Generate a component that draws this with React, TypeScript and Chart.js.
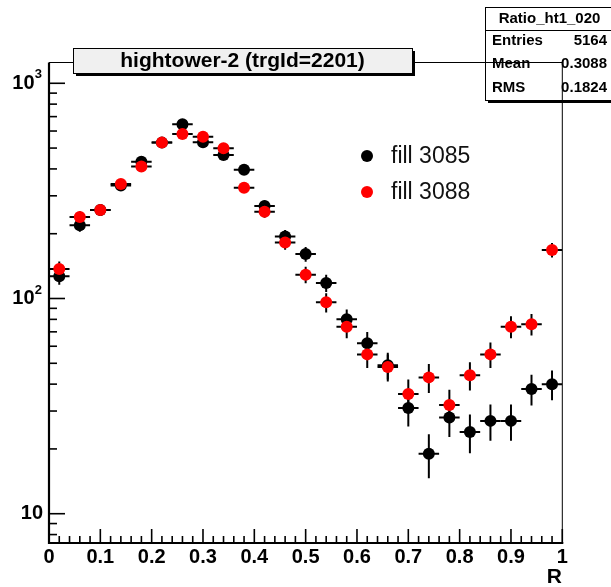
import { useEffect, useRef } from 'react';
import { Chart, registerables } from 'chart.js';

Chart.register(...registerables);

// ---- data ----
const binCenters = [0.02, 0.06, 0.10, 0.14, 0.18, 0.22, 0.26, 0.30, 0.34, 0.38, 0.42, 0.46, 0.50, 0.54, 0.58, 0.62, 0.66, 0.70, 0.74, 0.78, 0.82, 0.86, 0.90, 0.94, 0.98];
const binHalfWidth = 0.02;
const fill3085 = [127, 219, 258, 335, 432, 530, 645, 532, 464, 396, 269, 194, 161, 118, 80, 62, 49, 31, 19, 28, 24, 27, 27, 38, 40];
const fill3085Err = [11.3, 14.8, 16.1, 18.3, 20.8, 23, 25.4, 23.1, 21.5, 19.9, 16.4, 13.9, 12.7, 10.9, 8.9, 7.9, 7, 5.6, 4.4, 5.3, 4.9, 5.2, 5.2, 6.2, 6.3];
const fill3088 = [137, 239, 258, 340, 410, 530, 581, 565, 499, 327, 253, 182, 129, 96, 74, 55, 48, 36, 43, 32, 44, 55, 74, 76, 168];
const fill3088Err = [11.7, 15.5, 16.1, 18.4, 20.2, 23, 24.1, 23.8, 22.3, 18.1, 15.9, 13.5, 11.4, 9.8, 8.6, 7.4, 6.9, 6, 6.6, 5.7, 6.6, 7.4, 8.6, 8.7, 13];
const seriesLabels = ['fill 3085', 'fill 3088'];
const seriesColors = ['#000000', '#ff0000'];

const xTickValues = [0, 0.1, 0.2, 0.3, 0.4, 0.5, 0.6, 0.7, 0.8, 0.9, 1];
const xTickLabels = ['0', '0.1', '0.2', '0.3', '0.4', '0.5', '0.6', '0.7', '0.8', '0.9', '1'];
const yDecades = [10, 100, 1000];
const yDecadeBase = ['10', '10', '10'];
const yDecadeExp = ['', '2', '3'];
const xMin = 0;
const xMax = 1;
const yMin = 7.31;
const yMax = 1249;

const titleText = 'hightower-2 (trgId=2201)';
const xTitle = 'R';
const statsName = 'Ratio_ht1_020';
const statsLabels = ['Entries', 'Mean', 'RMS'];
const statsValues = ['5164', '0.3088', '0.1824'];

const errorSets = [fill3085Err, fill3088Err];
const FONT = '"Liberation Sans", Arial, Helvetica, sans-serif';

const rootPlugin = {
  id: 'rootStyle',
  beforeDatasetDraw(chart: any, args: any) {
    const ctx = chart.ctx;
    const xs = chart.scales.x;
    const ys = chart.scales.y;
    const ds = chart.data.datasets[args.index];
    const errs = errorSets[ds.seriesIndex];
    const ca = chart.chartArea;
    ctx.save();
    ctx.beginPath();
    ctx.rect(ca.left, ca.top, ca.right - ca.left, ca.bottom - ca.top);
    ctx.clip();
    ctx.strokeStyle = '#000';
    ctx.lineWidth = 2;
    ds.data.forEach((p: any, i: number) => {
      const px = xs.getPixelForValue(p.x);
      const py = ys.getPixelForValue(p.y);
      const x0 = xs.getPixelForValue(p.x - binHalfWidth);
      const x1 = xs.getPixelForValue(p.x + binHalfWidth);
      const yT = ys.getPixelForValue(p.y + errs[i]);
      const yB = ys.getPixelForValue(Math.max(p.y - errs[i], yMin * 0.5));
      ctx.beginPath();
      ctx.moveTo(x0, py);
      ctx.lineTo(x1, py);
      ctx.moveTo(px, yT);
      ctx.lineTo(px, yB);
      ctx.stroke();
    });
    ctx.restore();
  },
  afterDraw(chart: any) {
    const ctx = chart.ctx;
    const xs = chart.scales.x;
    const ys = chart.scales.y;
    const { left, right, top, bottom } = chart.chartArea;
    ctx.save();

    // stats box
    const sbL = 485, sbT = 7, sbR = 616, sbB = 100;
    ctx.fillStyle = '#000';
    ctx.fillRect(sbL + 3, sbT + 3, sbR - sbL, sbB - sbT);
    ctx.fillStyle = '#fff';
    ctx.fillRect(sbL, sbT, sbR - sbL, sbB - sbT);
    ctx.strokeStyle = '#000';
    ctx.lineWidth = 1;
    ctx.strokeRect(sbL + 0.5, sbT + 0.5, sbR - sbL, sbB - sbT);
    ctx.beginPath();
    ctx.moveTo(sbL, 30.5);
    ctx.lineTo(sbR, 30.5);
    ctx.stroke();
    ctx.fillStyle = '#000';
    ctx.font = `bold 15px ${FONT}`;
    ctx.textBaseline = 'middle';
    ctx.textAlign = 'center';
    ctx.fillText(statsName, 549.5, 18.5);
    const rowY = [41, 64, 88];
    statsLabels.forEach((lab, i) => {
      ctx.textAlign = 'left';
      ctx.fillText(lab, 492, rowY[i]);
      ctx.textAlign = 'right';
      ctx.fillText(statsValues[i], 607, rowY[i]);
    });

    // frame (thin top / right)
    ctx.strokeStyle = '#000';
    ctx.lineWidth = 1;
    ctx.beginPath();
    ctx.moveTo(left, top);
    ctx.lineTo(right, top);
    ctx.lineTo(right, bottom);
    ctx.stroke();

    // axes (thick left / bottom)
    ctx.lineWidth = 2.2;
    ctx.beginPath();
    ctx.moveTo(left, top);
    ctx.lineTo(left, bottom);
    ctx.lineTo(right + 1, bottom);
    ctx.stroke();

    // y ticks (inside)
    ctx.lineWidth = 1.6;
    for (let n = 0; n <= 4; n++) {
      for (let m = 1; m <= 9; m++) {
        const v = m * Math.pow(10, n);
        if (v < yMin || v > yMax) continue;
        const py = ys.getPixelForValue(v);
        const len = m === 1 ? 16 : 8;
        ctx.beginPath();
        ctx.moveTo(left, py);
        ctx.lineTo(left + len, py);
        ctx.stroke();
      }
    }
    // x ticks (inside)
    for (let i = 0; i <= 50; i++) {
      const v = xMin + (i * (xMax - xMin)) / 50;
      const px = xs.getPixelForValue(v);
      const len = i % 5 === 0 ? 14 : 7;
      ctx.beginPath();
      ctx.moveTo(px, bottom);
      ctx.lineTo(px, bottom - len);
      ctx.stroke();
    }

    // y labels
    ctx.fillStyle = '#000';
    ctx.textBaseline = 'middle';
    yDecades.forEach((v, i) => {
      const py = ys.getPixelForValue(v);
      if (yDecadeExp[i]) {
        ctx.font = `bold 20px ${FONT}`;
        ctx.textAlign = 'right';
        ctx.fillText(yDecadeBase[i], 34.5, py);
        ctx.font = `bold 13px ${FONT}`;
        ctx.textAlign = 'right';
        ctx.fillText(yDecadeExp[i], 42, py - 8.5);
      } else {
        ctx.font = `bold 20px ${FONT}`;
        ctx.textAlign = 'right';
        ctx.fillText(yDecadeBase[i], 43, py);
      }
    });
    // x labels
    ctx.font = `bold 20px ${FONT}`;
    ctx.textAlign = 'center';
    xTickValues.forEach((v, i) => {
      ctx.fillText(xTickLabels[i], xs.getPixelForValue(v), 557);
    });
    // x title
    ctx.font = `bold 21px ${FONT}`;
    ctx.textAlign = 'right';
    ctx.fillText(xTitle, 562, 577);

    // title box
    const tbL = 73, tbT = 48, tbR = 412, tbB = 73;
    ctx.fillStyle = '#000';
    ctx.fillRect(tbL + 3, tbT + 3, tbR - tbL, tbB - tbT);
    ctx.fillStyle = '#f0f0f0';
    ctx.fillRect(tbL, tbT, tbR - tbL, tbB - tbT);
    ctx.strokeStyle = '#000';
    ctx.lineWidth = 1;
    ctx.strokeRect(tbL + 0.5, tbT + 0.5, tbR - tbL, tbB - tbT);
    ctx.fillStyle = '#000';
    ctx.font = `bold 21px ${FONT}`;
    ctx.textAlign = 'center';
    ctx.textBaseline = 'middle';
    ctx.fillText(titleText, (tbL + tbR) / 2, (tbT + tbB) / 2 + 1);

    // legend
    const legY = [156, 192];
    seriesLabels.forEach((lab, i) => {
      ctx.fillStyle = seriesColors[i];
      ctx.beginPath();
      ctx.arc(367, legY[i], 6, 0, Math.PI * 2);
      ctx.fill();
      ctx.fillStyle = '#111';
      ctx.font = `23px ${FONT}`;
      ctx.textAlign = 'left';
      ctx.textBaseline = 'middle';
      ctx.fillText(lab, 391, legY[i] + 1);
    });

    ctx.restore();
  },
};

export default function App() {
  const ref = useRef<HTMLCanvasElement | null>(null);
  useEffect(() => {
    document.body.style.margin = '0';
    const canvas = ref.current;
    if (!canvas) return;
    const makeData = (vals: number[]) => binCenters.map((x, i) => ({ x, y: vals[i] }));
    const chart = new Chart(canvas, {
      type: 'scatter',
      data: {
        datasets: [
          {
            label: seriesLabels[0],
            data: makeData(fill3085),
            seriesIndex: 0,
            order: 1,
            pointRadius: 6,
            pointBackgroundColor: seriesColors[0],
            pointBorderWidth: 0,
            borderColor: seriesColors[0],
            showLine: false,
          } as any,
          {
            label: seriesLabels[1],
            data: makeData(fill3088),
            seriesIndex: 1,
            order: 0,
            pointRadius: 6,
            pointBackgroundColor: seriesColors[1],
            pointBorderWidth: 0,
            borderColor: seriesColors[1],
            showLine: false,
          } as any,
        ],
      },
      options: {
        animation: false,
        responsive: false,
        events: [],
        layout: { padding: { left: 49, right: 48.7, top: 62.5, bottom: 44 } },
        plugins: { legend: { display: false }, title: { display: false }, tooltip: { enabled: false } },
        scales: {
          x: { type: 'linear', min: xMin, max: xMax, display: false },
          y: { type: 'logarithmic', min: yMin, max: yMax, display: false },
        },
      },
      plugins: [rootPlugin],
    });
    return () => chart.destroy();
  }, []);
  return (
    <canvas
      ref={ref}
      width={611}
      height={587}
      style={{ display: 'block', position: 'absolute', left: 0, top: 0, width: 611, height: 587 }}
    />
  );
}
